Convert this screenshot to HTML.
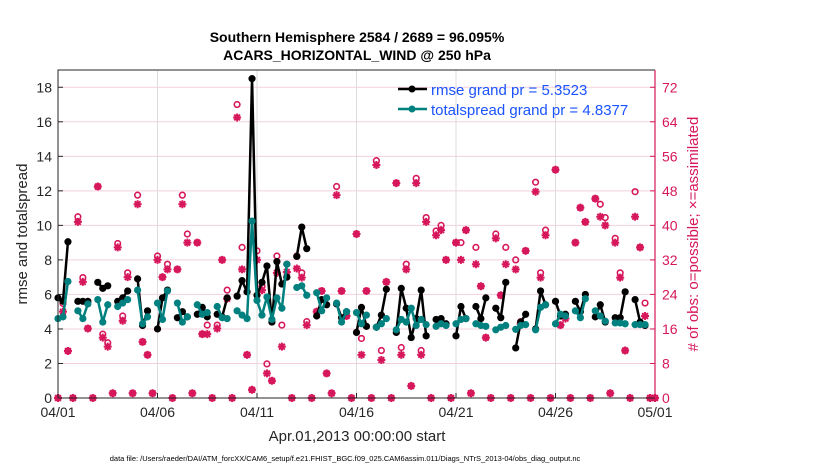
<!DOCTYPE html>
<html><head><meta charset="utf-8"><style>
html,body{margin:0;padding:0;background:#fff;}
svg text{font-family:"Liberation Sans",Arial,sans-serif;}
</style></head><body>
<svg id="chart" width="830" height="470" viewBox="0 0 830 470" xmlns="http://www.w3.org/2000/svg">
<rect x="0" y="0" width="830" height="470" fill="#fff"/>
<g id="grid"></g>
<g id="marks"></g>
<g id="axes"></g>
<text x="357" y="42" text-anchor="middle" font-size="14" font-weight="bold">Southern Hemisphere 2584 / 2689 = 96.095%</text>
<text x="357" y="60" text-anchor="middle" font-size="14" font-weight="bold">ACARS_HORIZONTAL_WIND @ 250 hPa</text>
<text x="357" y="441" text-anchor="middle" font-size="15" fill="#262626">Apr.01,2013 00:00:00 start</text>
<text transform="translate(27,234) rotate(-90)" text-anchor="middle" font-size="15" fill="#262626">rmse and totalspread</text>
<text transform="translate(698,234) rotate(-90)" text-anchor="middle" font-size="15" fill="#d6175b"># of obs: o=possible; ×=assimilated</text>
<text x="345" y="461" text-anchor="middle" font-size="7.5" fill="#000">data file: /Users/raeder/DAI/ATM_forcXX/CAM6_setup/f.e21.FHIST_BGC.f09_025.CAM6assim.011/Diags_NTrS_2013-04/obs_diag_output.nc</text>
<g id="legend">
  <g>
    <line x1="398" y1="89" x2="427" y2="89" stroke="#000" stroke-width="2.5"/>
    <circle cx="412" cy="89" r="3.5" fill="#000"/>
    <text x="431" y="95" font-size="15" fill="#1a53ff">rmse grand pr = 5.3523</text>
  </g>
  <g>
    <line x1="398" y1="109" x2="427" y2="109" stroke="#00807f" stroke-width="2.5"/>
    <circle cx="412" cy="109" r="3.5" fill="#00807f"/>
    <text x="431" y="115" font-size="15" fill="#1a53ff">totalspread grand pr = 4.8377</text>
  </g>
</g>
</svg>
<script>
const dateLabels = ["04/01","04/06","04/11","04/16","04/21","04/26","05/01"];
const leftTicks = [0,2,4,6,8,10,12,14,16,18];
const rightTicks = [0,8,16,24,32,40,48,56,64,72];
const N = null;
const rmse = [5.8,5.6,9.05,N,5.6,5.6,5.6,N,6.7,6.35,6.5,N,5.6,5.8,6.2,N,6.9,4.2,5.05,N,4.0,5.8,6.25,N,4.65,5.0,4.7,N,4.85,5.25,4.7,N,4.85,4.7,5.8,N,5.9,6.8,6.15,18.5,5.95,6.7,7.65,4.4,7.9,6.6,7.0,N,8.2,9.9,8.65,N,4.75,5.7,5.4,N,5.45,4.65,5.0,N,3.8,5.25,4.15,N,4.1,4.8,6.3,N,3.8,6.35,5.2,3.5,4.6,6.25,3.6,N,4.55,4.6,4.3,N,3.6,5.3,4.6,N,5.3,4.6,5.8,N,5.2,4.65,6.7,N,2.9,4.4,4.85,N,4.0,6.2,5.4,N,5.6,4.75,4.85,N,5.6,5.0,6.0,N,4.7,5.4,4.4,N,4.65,4.65,6.15,N,5.7,4.4,4.2,N];
const spread = [4.6,4.7,6.75,N,5.05,4.6,5.45,N,5.7,4.4,5.4,N,5.3,5.5,5.7,N,6.25,4.3,4.7,N,5.5,4.55,6.2,N,5.5,4.4,4.7,N,5.4,4.85,4.95,N,5.3,4.65,4.6,N,5.05,4.8,4.6,10.25,5.65,4.8,5.85,4.55,5.8,5.2,7.75,N,6.4,6.5,5.95,N,6.1,5.05,5.8,N,5.5,4.4,5.0,N,4.95,4.3,4.8,N,4.1,4.3,4.6,N,3.95,4.55,4.4,5.2,4.2,4.55,4.25,N,4.15,4.3,4.2,N,4.3,4.55,4.6,N,4.3,4.2,4.15,N,3.95,4.1,4.2,N,3.98,4.2,4.25,N,3.95,5.25,5.4,N,4.3,4.85,4.75,N,5.05,4.65,5.75,N,5.05,4.75,4.45,N,4.35,4.35,4.3,N,4.25,4.25,4.25,N];
const assimilated = [0,20,10.9,0,40.8,26.9,16.1,0,49,14,11.9,1.1,34.9,17.9,28,1.1,44.9,13,10,1.1,32,28,29.8,0,29.8,44.9,36,1.1,36,14.8,14.8,0,16.1,32,23,0,65,29.8,10,1.9,32,25,5.7,4,29,11.9,29.2,0,30,27.9,16.9,0,20,24.8,5.7,1.1,47,24.8,19,0,38,10,24.8,0,54,8.8,26.9,0,49.8,10,29.8,2.8,49.8,10,40.8,0,37.7,38.9,32,0,36,32,38.9,1.1,31,25.9,14,0,37,23.8,31,0,29.8,17.2,34.1,0,47.8,27.9,37.7,0,52.9,16.9,18.4,0,36,44.1,40.8,0,46.2,42,40,1.1,36,27.9,11,0,42,34.9,19,0,0];
const possible = [0,21.9,10.9,0,42,27.9,16.1,0,49,14.8,12.8,1.1,35.8,19,29,1.1,47,13,10,1.1,32.9,28,31,0,29.8,47,38,1.1,36,14.8,16.9,0,16.9,32,25,0,68,34.9,10,1.9,34.1,25.9,7.9,4,32.9,16.9,31,0,32.9,29,17.7,0,20,24.8,5.7,1.1,49,24.8,19,0,38,13.8,24.8,0,55,11,26.9,0,49.8,11.7,31,2.8,50.9,11,41.8,0,38.7,40,32,0,36,36,38.9,1.1,34.9,25.9,14,0,38,23.8,34.9,0,32,17.7,34.1,0,50,29,38.9,0,52.9,16.9,19.2,0,36,44.1,40.8,0,46.2,44.9,41.8,1.1,37,29,11,0,47.8,34.9,22,0,0];

const NS = "http://www.w3.org/2000/svg";
const L = 58, R = 655, T = 70, B = 398;
const STEPS = 120;
const xS = i => L + i * (R - L) / STEPS;
const yL = v => B - v * (B - T) / 19;
const yR = v => B - v * (B - T) / 76;
const RED = "#d6175b", TEAL = "#00807f";
function mk(tag, attrs, parent){ const e=document.createElementNS(NS,tag); for(const k in attrs) e.setAttribute(k,attrs[k]); parent.appendChild(e); return e; }
const grid = document.getElementById("grid"), marks = document.getElementById("marks"), axes = document.getElementById("axes");

rightTicks.forEach(t => {
  const g = mk("line",{x1:L,x2:R,y1:yR(t),y2:yR(t),stroke:"#f3d0dc","stroke-width":1},grid);
  
  
});
dateLabels.forEach((d,k) => {
  const x = L + k*(R-L)/6;
  const g = mk("line",{x1:x,x2:x,y1:T,y2:B,stroke:"#dcdcdc","stroke-width":1},grid);
  
  
  const t = mk("text",{x:x,y:B+19,"text-anchor":"middle","font-size":14,fill:"#262626"},axes);
  t.textContent = d;
  
  
  const tk = mk("line",{x1:x,x2:x,y1:B,y2:B-5,stroke:"#262626"},axes);
  
  
});
leftTicks.forEach(v => {
  const t = mk("text",{x:L-6,y:yL(v)+5,"text-anchor":"end","font-size":14,fill:"#262626"},axes);
  t.textContent = v;
  
  
  const tk = mk("line",{x1:L,x2:L+5,y1:yL(v),y2:yL(v),stroke:"#262626"},axes);
  
  
});
rightTicks.forEach(v => {
  const t = mk("text",{x:R+7,y:yR(v)+5,"text-anchor":"start","font-size":14,fill:RED},axes);
  t.textContent = v;
  
  
  const tk = mk("line",{x1:R,x2:R-5,y1:yR(v),y2:yR(v),stroke:RED},axes);
  
  
});
const fr = mk("path",{d:`M${L},${B}V${T}H${R}`,fill:"none",stroke:"#262626","stroke-width":1},axes);


const bx = mk("line",{x1:L,x2:R,y1:B,y2:B,stroke:"#262626"},axes);


const ry = mk("line",{x1:R,x2:R,y1:T,y2:B,stroke:RED,"stroke-width":1.2},axes);



possible.forEach((v,i) => {
  if (v === null) return;
  const c = mk("circle",{cx:xS(i),cy:yR(v),r:2.8,fill:"none",stroke:RED,"stroke-width":1.6},marks);
  
  
});
assimilated.forEach((v,i) => {
  if (v === null) return;
  const x = xS(i), y = yR(v), s = 4;
  const d = `M${x-s},${y}H${x+s}M${x},${y-s}V${y+s}M${x-s*0.72},${y-s*0.72}L${x+s*0.72},${y+s*0.72}M${x-s*0.72},${y+s*0.72}L${x+s*0.72},${y-s*0.72}`;
  const p = mk("path",{d:d,stroke:RED,"stroke-width":2,fill:"none"},marks);
  
  
});

function series(arr, color, name){
  let d = "", pen = false;
  arr.forEach((v,i) => {
    if (v === null) { pen = false; return; }
    d += (pen ? "L" : "M") + xS(i).toFixed(2) + "," + yL(v).toFixed(2);
    pen = true;
  });
  const p = mk("path",{d:d,fill:"none",stroke:color,"stroke-width":2.5,"stroke-linejoin":"round"},marks);
  
  
  arr.forEach((v,i) => {
    if (v === null) return;
    const c = mk("circle",{cx:xS(i),cy:yL(v),r:3.6,fill:color},marks);
    
    
  });
}
series(rmse, "#000", "rmse");
series(spread, TEAL, "totalspread");
</script>
</body></html>
